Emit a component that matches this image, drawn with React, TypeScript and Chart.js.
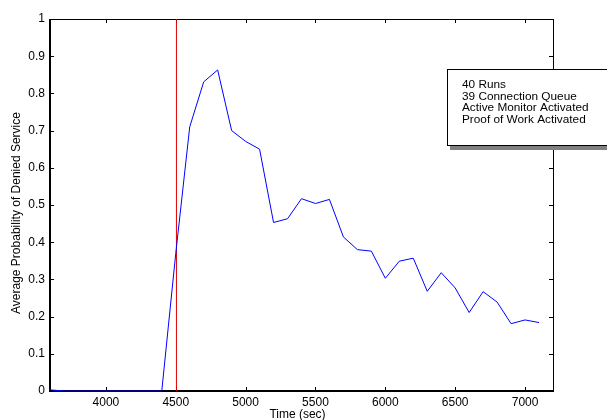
import React, { useEffect, useRef } from "react";
import { Chart, registerables } from "chart.js";

Chart.register(...registerables);

const times = [
  3600, 3700, 3800, 3900, 4000, 4100, 4200, 4300, 4400, 4500, 4600, 4700,
  4800, 4900, 5000, 5100, 5200, 5300, 5400, 5500, 5600, 5700, 5800, 5900,
  6000, 6100, 6200, 6300, 6400, 6500, 6600, 6700, 6800, 6900, 7000, 7100,
];
const probability = [
  0.003, 0.0, 0.0, 0.0, 0.0, 0.0, 0.0, 0.0, 0.0, 0.37, 0.71, 0.831,
  0.863, 0.7, 0.671, 0.65, 0.453, 0.463, 0.517, 0.504, 0.515, 0.414, 0.38, 0.376,
  0.303, 0.349, 0.357, 0.268, 0.318, 0.277, 0.211, 0.267, 0.239, 0.181, 0.191, 0.184,
];
const markerTime = [4505];
const markerRange = [0, 1];
const xTicks = [4000, 4500, 5000, 5500, 6000, 6500, 7000];
const yTicks = [0, 0.1, 0.2, 0.3, 0.4, 0.5, 0.6, 0.7, 0.8, 0.9, 1];
const noteLines = [
  "40 Runs",
  "39 Connection Queue",
  "Active Monitor Activated",
  "Proof of Work Activated",
];
const xTitle = "Time (sec)";
const yTitle = "Average Probability of Denied Service";

const FONT = "'Liberation Sans', Arial, sans-serif";

const seg = (ctx: any, x1: number, y1: number, x2: number, y2: number) => {
  ctx.beginPath();
  ctx.moveTo(x1, y1);
  ctx.lineTo(x2, y2);
  ctx.stroke();
};

const framePlugin = {
  id: "frame",
  beforeDatasetsDraw(chart: any) {
    const { ctx, chartArea, scales } = chart;
    const { left, right, top, bottom } = chartArea;
    const x = scales.x;
    const y = scales.y;
    ctx.save();
    ctx.strokeStyle = "#000";
    ctx.lineWidth = 1;
    x.ticks.forEach((t: any) => {
      const px = Math.round(x.getPixelForValue(t.value)) + 0.5;
      seg(ctx, px, bottom, px, bottom - 4);
      seg(ctx, px, top, px, top + 4);
    });
    y.ticks.forEach((t: any) => {
      const py = Math.round(y.getPixelForValue(t.value)) + 0.5;
      seg(ctx, left, py, left + 4, py);
      seg(ctx, right, py, right - 4, py);
    });
    seg(ctx, left, top + 0.5, right, top + 0.5);
    seg(ctx, right + 0.5, top, right + 0.5, bottom);
    ctx.lineWidth = 2;
    seg(ctx, left, top, left, bottom + 1);
    seg(ctx, left - 1, bottom, right + 1, bottom);

    // axis titles
    ctx.fillStyle = "#000";
    ctx.textAlign = "center";
    ctx.textBaseline = "middle";
    ctx.font = `12px ${FONT}`;
    ctx.fillText(xTitle, (left + right) / 2 - 4, 415);
    ctx.save();
    ctx.translate(17, (top + bottom) / 2 + 8);
    ctx.rotate(-Math.PI / 2);
    ctx.fillText(yTitle, 0, 0);
    ctx.restore();
    ctx.restore();
  },
  afterDraw(chart: any) {
    const { ctx } = chart;
    ctx.save();
    const bx = 447;
    const by = 69;
    const bw = 165;
    const bh = 77;
    ctx.fillStyle = "#808080";
    ctx.fillRect(bx + 3, by + 3, bw, bh + 1);
    ctx.fillStyle = "#fff";
    ctx.fillRect(bx, by, bw, bh);
    ctx.lineWidth = 1;
    ctx.strokeStyle = "#000";
    ctx.strokeRect(bx + 0.5, by + 0.5, bw - 1, bh - 1);
    ctx.fillStyle = "#000";
    ctx.font = `11.8px ${FONT}`;
    ctx.textBaseline = "middle";
    ctx.textAlign = "left";
    noteLines.forEach((line, i) => {
      ctx.fillText(line, bx + 15, by + 16 + i * 11.6);
    });
    ctx.restore();
  },
};

export default function App() {
  const canvasRef = useRef<HTMLCanvasElement | null>(null);

  useEffect(() => {
    const canvas = canvasRef.current;
    if (!canvas) return;
    const chart = new Chart(canvas, {
      type: "line",
      data: {
        datasets: [
          {
            label: "Average Probability",
            data: times.map((t, i) => ({ x: t, y: probability[i] })),
            borderColor: "#0000ff",
            borderWidth: 1,
            pointRadius: 0,
            tension: 0,
            fill: false,
            clip: 3,
          },
          {
            label: "Activation",
            data: markerRange.map((v) => ({ x: markerTime[0], y: v })),
            borderColor: "#e00000",
            borderWidth: 1,
            pointRadius: 0,
            fill: false,
          },
        ],
      },
      options: {
        responsive: false,
        animation: false,
        devicePixelRatio: 1,
        layout: { padding: { left: 0, right: 54, top: 19, bottom: 0 } },
        plugins: {
          legend: { display: false },
          tooltip: { enabled: false },
        },
        scales: {
          x: {
            type: "linear",
            min: 3600,
            max: 7200,
            afterBuildTicks: (s: any) => {
              s.ticks = xTicks.map((v) => ({ value: v }));
            },
            afterFit: (s: any) => {
              s.height = 29;
            },
            grid: { display: false, drawTicks: false },
            border: { display: false },
            ticks: {
              padding: 4,
              color: "#000",
              font: { family: FONT, size: 12 },
              maxRotation: 0,
              autoSkip: false,
              callback: (v: any) => String(v),
            },
            title: { display: false },
          },
          y: {
            type: "linear",
            min: 0,
            max: 1,
            afterBuildTicks: (s: any) => {
              s.ticks = yTicks.map((v) => ({ value: v }));
            },
            afterFit: (s: any) => {
              s.width = 50;
            },
            grid: { display: false, drawTicks: false },
            border: { display: false },
            ticks: {
              padding: 5,
              color: "#000",
              font: { family: FONT, size: 12 },
              autoSkip: false,
              callback: (v: any) => String(Math.round(Number(v) * 10) / 10),
            },
            title: { display: false },
          },
        },
      },
      plugins: [framePlugin],
    });
    return () => chart.destroy();
  }, []);

  return (
    <div style={{ position: "fixed", left: 0, top: 0, width: 607, height: 420, background: "#fff" }}>
      <canvas ref={canvasRef} width={607} height={420} style={{ width: 607, height: 420 }} />
    </div>
  );
}
